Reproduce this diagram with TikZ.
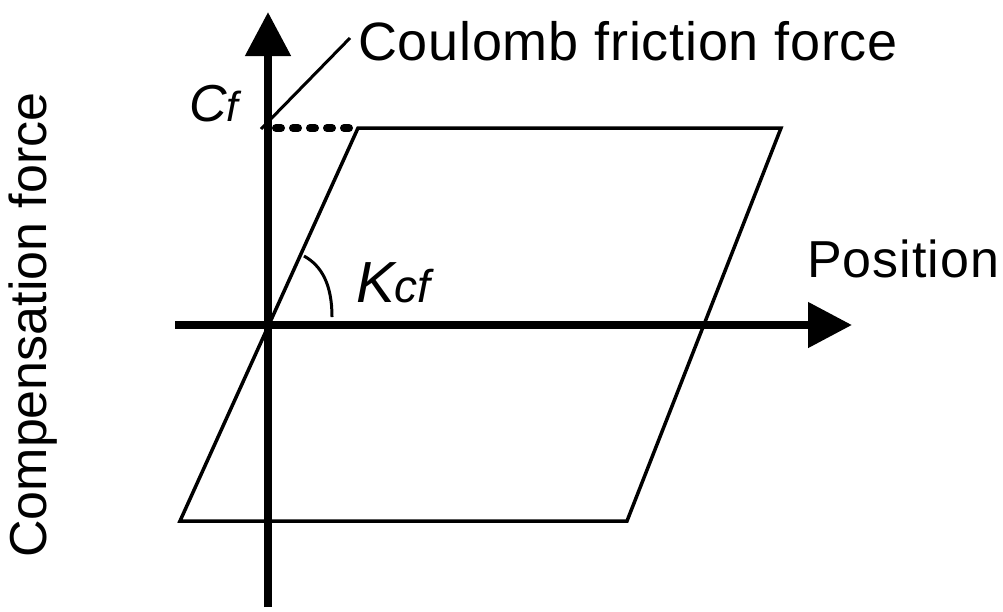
\documentclass[tikz,border=0pt]{standalone}
\usepackage{fontspec}
\setmainfont{Liberation Sans}
\usepackage{tikz}
\usetikzlibrary{arrows.meta}

\begin{document}
\begin{tikzpicture}[x=1pt, y=-1pt,
    every node/.style={font=\fontsize{52}{60}\selectfont, inner sep=0pt},
    axis/.style={line width=8pt, -{Triangle[length=44pt, width=44pt]}},
    loopedge/.style={line width=3.5pt, line join=miter},
    leader/.style={line width=3pt}]
    \useasboundingbox (0,0) rectangle (1003,611);
    % axes
    \coordinate (ybot) at (268,607);
    \coordinate (ytop) at (268,12);
    \coordinate (xleft) at (175,325);
    \coordinate (xright) at (852,325);
    \draw[axis] (ybot) -- (ytop);
    \draw[axis] (xleft) -- (xright);
    % hysteresis loop
    \coordinate (tl) at (358,128);
    \coordinate (tr) at (781,128);
    \coordinate (br) at (627,521);
    \coordinate (bl) at (180,521);
    \draw[loopedge] (bl) -- (tl) -- (tr) -- (br) -- cycle;
    \coordinate (cf) at (276,128);
    \draw[line width=8pt, line cap=round, dash pattern=on 5pt off 12pt] (cf) -- (tl);
    % leader and angle
    \coordinate (lead1) at (261,129);
    \coordinate (lead2) at (350,38);
    \draw[leader] (lead1) -- (lead2);
    \coordinate (arcstart) at (304,256);
    \coordinate (arcend) at (332,317);
    \draw[leader] (arcstart) .. controls (322,266) and (332,285) .. (arcend);
    % labels
    \node[anchor=base west, font=\fontsize{54}{60}\selectfont\addfontfeature{LetterSpace=1.4}] (coulomb) at (358,60) {Coulomb friction force};
    \node[anchor=base west, font=\fontsize{52}{60}\selectfont\addfontfeature{LetterSpace=2}] (pos) at (807,277) {Position};
    \node[anchor=base, rotate=90] (comp) at (46,325) {Compensation force};
    \node[anchor=base west, font=\fontsize{52}{56}\selectfont\itshape] (cflabel) at (189,121) {C\fontsize{42}{46}\selectfont f};
    \node[anchor=base west, font=\fontsize{58}{64}\selectfont\itshape] (kcf) at (356,302) {K\fontsize{46}{50}\selectfont cf};
\end{tikzpicture}
\end{document}
